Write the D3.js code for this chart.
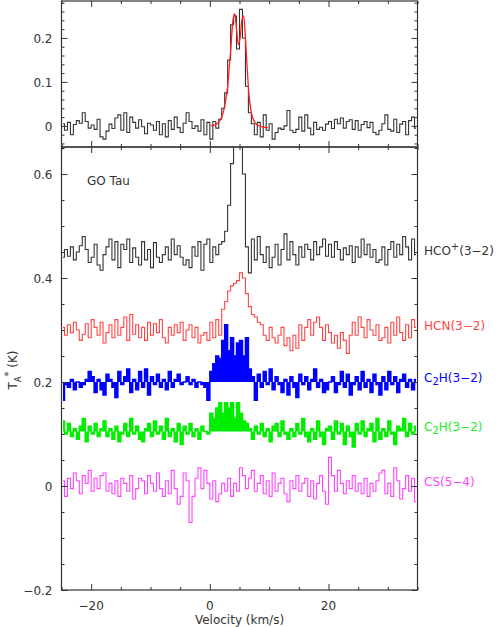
<!DOCTYPE html>
<html>
<head>
<meta charset="utf-8">
<script src="https://cdn.jsdelivr.net/npm/d3@7"></script>
<style>
  body { margin: 0; background: #fff; }
  text { font-family: "DejaVu Sans", sans-serif; }
</style>
</head>
<body>
<div id="chart"></div>
<script>
const w = 500, h = 627;
const left = 61.5, right = 417.5;
const topPanel = [1, 147], botPanel = [147, 590];

// channels: 0.5 km/s wide, first center -24.75
const v0 = -24.75, dv = 0.5;

// top panel spectrum (mK)
const topSpec = [5,-10,8,-20,3,12,6,30,10,-5,2,-8,15,-25,-30,-12,4,-6,18,25,-10,30,-15,20,8,-5,14,-2,-18,6,2,-10,10,-20,5,-25,12,-8,20,-4,-15,6,30,10,-6,0,-12,14,-20,8,-30,10,-5,15,
  40,75,150,230,250,175,265,200,90,30,5,
  -20,8,-25,25,-10,5,-30,-15,-5,-8,0,35,-10,-15,-8,20,-12,25,-5,-20,8,-8,-3,-10,4,10,-6,15,5,18,-5,10,14,-8,12,-10,3,10,-4,8,-15,-20,-10,5,25,-8,-12,15,-15,4,10,-20,12,20,-5];
// fit (km/s, K)
const fitV = [0.2,1,2,2.5,3,3.5,3.9,4.2,4.5,4.8,5.1,5.4,5.7,6.0,6.3,6.6,7,7.5,8,9,9.8];
const fitT = [0,0.003,0.02,0.045,0.09,0.17,0.24,0.255,0.22,0.185,0.2,0.24,0.25,0.2,0.13,0.07,0.03,0.01,0.002,-0.003,-0.004];

// bottom panel spectra (mK relative to offset)
const hco = [-10,5,-8,10,-15,0,12,30,5,-20,-10,15,-25,-35,-5,10,25,-15,20,-30,15,5,25,-20,8,-10,-25,20,-15,5,-30,18,-10,-20,-5,10,-15,25,-5,12,-10,-25,-15,-30,10,-8,20,-35,15,25,-20,10,-5,15,
  20,40,90,170,300,300,300,150,10,
  -40,25,-15,30,-5,-20,10,-30,-10,15,-25,5,35,-15,20,-5,-25,10,-10,15,5,-15,20,-5,10,25,-8,15,-10,20,5,-15,8,-5,12,-20,10,-10,25,-5,15,-10,5,-20,-15,10,-25,5,20,-10,15,-5,30,10,-15,25,-5];
const hcn = [5,-10,10,-5,15,0,-20,-8,12,-15,20,5,-10,15,-25,-5,10,-15,20,-10,5,25,-20,30,-8,10,-15,5,-20,15,-10,12,-5,20,-15,-25,5,-10,10,-5,15,-20,0,10,-15,5,-25,-10,-5,-20,15,-15,20,-10,
  40,55,75,85,90,95,110,100,70,45,30,25,15,10,
  -10,-20,5,-15,-25,-10,5,-30,-15,-40,-10,-35,10,-20,5,20,-10,15,25,5,-20,10,-5,-25,-10,-35,-5,-20,-45,-10,15,-10,25,5,-15,20,0,-10,10,-20,-15,5,-25,15,-10,25,-5,-20,10,-15,20,5];
const c2hA = [-35,-5,-10,5,-15,0,-10,-5,5,20,10,-20,5,-15,-25,15,5,-10,-30,20,-5,10,25,-20,5,-15,20,-10,25,-25,10,-5,15,-10,5,-15,20,-10,5,15,-5,0,10,-5,5,-10,0,-5,-10,-35,
  20,35,50,45,80,110,60,85,50,75,80,50,85,25,10,
  -35,15,-10,20,-5,25,-15,10,-5,-20,5,-25,10,-10,-30,15,-5,10,-15,5,25,-10,5,-20,-15,0,10,-20,-5,20,-10,15,-25,-5,10,-15,20,-10,5,-20,15,-5,-25,10,-15,20,-5,10,-20,5,15,-10,5,-15,5];
const c2hB = [20,-5,15,-10,5,-15,10,25,-20,10,-5,15,-10,5,20,-10,5,-15,10,-20,-5,15,-10,25,-5,10,-15,-20,5,15,-10,20,-5,10,-15,25,-10,5,-20,15,-25,10,-5,15,-10,5,-15,10,0,-5,
  35,25,45,55,35,55,45,55,25,55,35,20,15,5,
  -15,10,-5,15,-10,5,-20,10,15,-10,20,-5,-15,5,-10,15,-5,25,-10,-20,5,-15,20,-10,-25,5,10,-15,20,-5,15,-25,10,-10,-30,15,-5,20,-10,5,15,-20,25,-15,5,-10,20,-5,-25,10,5,25,-10,15,-5,10];
const cs = [10,-20,15,-5,25,10,-15,20,5,30,-10,15,-5,20,25,-10,5,-15,10,-20,15,5,-10,20,-25,-5,15,10,-15,20,5,-10,25,-5,-20,10,-15,30,-5,-35,-20,25,10,-70,-20,15,35,-5,30,5,-25,10,-30,-15,5,-10,15,-20,5,-10,35,20,-5,15,30,-10,5,20,-15,10,-20,25,-10,5,15,-15,-30,10,-5,20,-10,5,15,-20,10,-25,5,20,-10,-35,55,20,-10,30,5,-15,10,-5,20,-10,5,-15,15,-20,5,-10,10,25,30,-15,5,-20,35,10,-25,-5,20,-10,15,-30];

const series = [hco, hcn, c2hA, c2hB, cs];
const offsets = [0.45, 0.30, 0.20, 0.105, 0];
const colors = ['#333333', '#ff4444', '#0000ff', '#00ee00', '#ff44ff'];
const filled = [false, false, true, true, false];
const labels = ['HCO<sup>+</sup>(3−2)', 'HCN(3−2)', 'C<sub>2</sub>H(3−2)', 'C<sub>2</sub>H(3−2)', 'CS(5−4)'];

const svg = d3.select('#chart').append('svg').attr('width', w).attr('height', h);

const x = d3.scaleLinear().domain([-25, 35]).range([left, right]);
const yTop = d3.scaleLinear().domain([-0.048, 0.284]).range([topPanel[1], topPanel[0]]);
const yBot = d3.scaleLinear().domain([-0.2, 0.652]).range([botPanel[1], botPanel[0]]);

const defs = svg.append('defs');
defs.append('clipPath').attr('id', 'clipTop').append('rect')
  .attr('x', left).attr('y', topPanel[0]).attr('width', right - left).attr('height', topPanel[1] - topPanel[0]);
defs.append('clipPath').attr('id', 'clipBot').append('rect')
  .attr('x', left).attr('y', botPanel[0]).attr('width', right - left).attr('height', botPanel[1] - botPanel[0]);

const chan = i => v0 + i * dv;

// top spectrum
const gTop = svg.append('g').attr('clip-path', 'url(#clipTop)');
gTop.append('path')
  .attr('d', d3.line().curve(d3.curveStep).x((d, i) => x(chan(i))).y(d => yTop(d / 1000))(topSpec))
  .attr('fill', 'none').attr('stroke', '#333').attr('stroke-width', 1.1);
gTop.append('path')
  .attr('d', d3.line().curve(d3.curveMonotoneX).x((d, i) => x(d)).y((d, i) => yTop(fitT[i]))(fitV))
  .attr('fill', 'none').attr('stroke', '#ff2020').attr('stroke-width', 1.3);

// bottom spectra
const gBot = svg.append('g').attr('clip-path', 'url(#clipBot)');
series.forEach((s, k) => {
  const yv = d => yBot(offsets[k] + d / 1000);
  if (filled[k]) {
    gBot.append('path')
      .attr('d', d3.area().curve(d3.curveStep).x((d, i) => x(chan(i))).y0(yBot(offsets[k])).y1(yv)(s))
      .attr('fill', colors[k]);
  }
  gBot.append('path')
    .attr('d', d3.line().curve(d3.curveStep).x((d, i) => x(chan(i))).y(yv)(s))
    .attr('fill', 'none').attr('stroke', colors[k]).attr('stroke-width', filled[k] ? 1.5 : 1.1);
});

// labels on the right
series.forEach((s, k) => {
  svg.append('foreignObject')
    .attr('x', 424).attr('y', yBot(offsets[k]) - 11).attr('width', 80).attr('height', 22)
    .append('xhtml:div')
    .style('font', '12px "DejaVu Sans", sans-serif')
    .style('color', colors[k] === '#00ee00' ? '#22ee22' : colors[k])
    .style('white-space', 'nowrap')
    .html(labels[k]);
});

// frames and ticks
function frame(y, majors, minors, fmt) {
  const g = svg.append('g');
  const [y0p, y1p] = [y.range()[1], y.range()[0]];
  const xMaj = [-20, 0, 20], xMin = d3.range(-25, 36, 5).filter(v => !xMaj.includes(v));
  [[xMaj, 6], [xMin, 3]].forEach(([vals, len]) => {
    g.append('g').attr('transform', `translate(0,${y1p})`)
      .call(d3.axisBottom(x).tickValues(vals).tickSize(-len).tickFormat('').tickSizeOuter(0));
    g.append('g').attr('transform', `translate(0,${y0p})`)
      .call(d3.axisTop(x).tickValues(vals).tickSize(-len).tickFormat('').tickSizeOuter(0));
  });
  [[majors, 6], [minors, 3]].forEach(([vals, len]) => {
    g.append('g').attr('transform', `translate(${left},0)`)
      .call(d3.axisLeft(y).tickValues(vals).tickSize(-len).tickFormat('').tickSizeOuter(0));
    g.append('g').attr('transform', `translate(${right},0)`)
      .call(d3.axisRight(y).tickValues(vals).tickSize(-len).tickFormat('').tickSizeOuter(0));
  });
  g.selectAll('.domain').remove();
  g.selectAll('line').attr('stroke', '#333').attr('stroke-width', 1);
  g.append('rect').attr('x', left).attr('y', y0p).attr('width', right - left).attr('height', y1p - y0p)
    .attr('fill', 'none').attr('stroke', '#333').attr('stroke-width', 1.2);
  majors.forEach(v => {
    g.append('text').attr('x', left - 9).attr('y', y(v) + 5).attr('text-anchor', 'end')
      .attr('font-size', 12).attr('fill', '#333').text(fmt(v));
  });
}
const fmt = v => (v === 0 ? '0' : String(v).replace('-', '−'));
frame(yTop, [0, 0.1, 0.2], [-0.04, -0.02, 0.02, 0.04, 0.06, 0.08, 0.12, 0.14, 0.16, 0.18, 0.22, 0.24, 0.26, 0.28], fmt);
frame(yBot, [-0.2, 0, 0.2, 0.4, 0.6], [-0.15, -0.1, -0.05, 0.05, 0.1, 0.15, 0.25, 0.3, 0.35, 0.45, 0.5, 0.55, 0.65], fmt);

// x labels
[-20, 0, 20].forEach(v => {
  svg.append('text').attr('x', x(v)).attr('y', 610).attr('text-anchor', 'middle')
    .attr('font-size', 12).attr('fill', '#333').text(fmt(v));
});
svg.append('text').attr('x', x(5)).attr('y', 624).attr('text-anchor', 'middle')
  .attr('font-size', 12).attr('fill', '#333').text('Velocity (km/s)');

svg.append('text').attr('x', 87).attr('y', 185).attr('font-size', 12).attr('fill', '#333').text('GO Tau');

// y label
const yl = svg.append('text').attr('transform', 'translate(17,370) rotate(-90)')
  .attr('text-anchor', 'middle').attr('font-size', 12).attr('fill', '#333');
yl.append('tspan').text('T');
yl.append('tspan').attr('font-size', 8).attr('dy', 4).text('A');
yl.append('tspan').attr('font-size', 10).attr('dy', -9).text('*');
yl.append('tspan').attr('dy', 5).text(' (K)');
</script>
</body>
</html>
